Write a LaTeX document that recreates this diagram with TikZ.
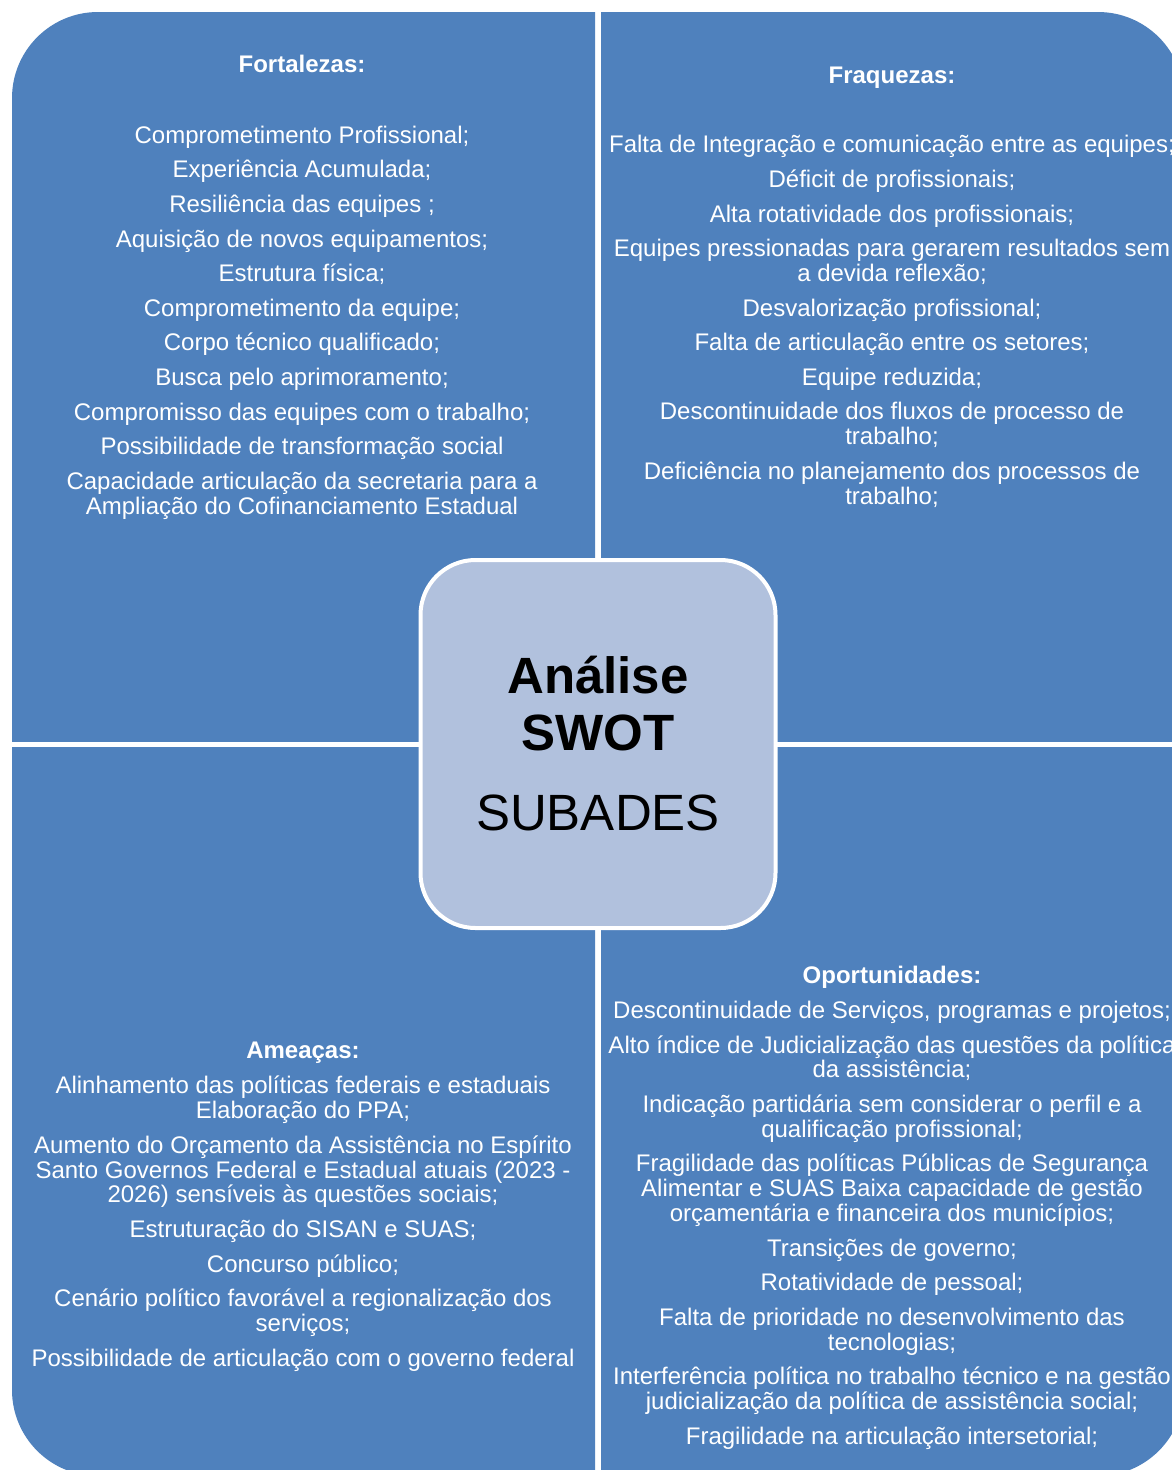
\documentclass[tikz,border=0pt]{standalone}
\usepackage{fontspec}
\setmainfont{Liberation Sans}
\definecolor{quadblue}{RGB}{79,129,189}
\definecolor{hubfill}{RGB}{177,193,221}
\begin{document}
\begin{tikzpicture}[x=1pt,y=-1pt,
  quad/.style={fill=quadblue,rounded corners=86pt},
  % text blocks are placed by the baseline of their last line
  quadtext/.style={text=white,align=center,inner sep=0pt,anchor=base,
    font=\fontsize{24}{24.8}\selectfont},
  hub/.style={draw=white,line width=4pt,fill=hubfill,rounded corners=55pt,
    minimum width=355pt,minimum height=368pt,inner sep=0pt},
  hubtext/.style={text=black,align=center,inner sep=0pt,anchor=base,
    font=\fontsize{51}{57}\selectfont},
]
\useasboundingbox (0,0) rectangle (1172,1470);

% four quadrants cut out of one rounded matrix
\begin{scope}
  \clip (0,0) rectangle (595,741);
  \fill[quad] (12,12) rectangle (1184,1476);
\end{scope}
\begin{scope}
  \clip (601,0) rectangle (1200,741);
  \fill[quad] (12,12) rectangle (1184,1476);
\end{scope}
\begin{scope}
  \clip (0,747) rectangle (595,1500);
  \fill[quad] (12,12) rectangle (1184,1476);
\end{scope}
\begin{scope}
  \clip (601,747) rectangle (1200,1500);
  \fill[quad] (12,12) rectangle (1184,1476);
\end{scope}

% strengths
\node[quadtext] (fortalezas) at (302,514) {\textbf{Fortalezas:}\\[46pt]
Comprometimento Profissional;\\[9.8pt]
Experiência Acumulada;\\[9.8pt]
Resiliência das equipes ;\\[9.8pt]
Aquisição de novos equipamentos;\\[9.8pt]
Estrutura física;\\[9.8pt]
Comprometimento da equipe;\\[9.8pt]
Corpo técnico qualificado;\\[9.8pt]
Busca pelo aprimoramento;\\[9.8pt]
Compromisso das equipes com o trabalho;\\[9.8pt]
Possibilidade de transformação social\\[9.8pt]
Capacidade articulação da secretaria para a\\
Ampliação do Cofinanciamento Estadual};

% weaknesses
\node[quadtext] (fraquezas) at (892,504) {\textbf{Fraquezas:}\\[45pt]
Falta de Integração e comunicação entre as equipes;\\[9.8pt]
Déficit de profissionais;\\[9.8pt]
Alta rotatividade dos profissionais;\\[9.8pt]
Equipes pressionadas para gerarem resultados sem\\
a devida reflexão;\\[9.8pt]
Desvalorização profissional;\\[9.8pt]
Falta de articulação entre os setores;\\[9.8pt]
Equipe reduzida;\\[9.8pt]
Descontinuidade dos fluxos de processo de\\
trabalho;\\[9.8pt]
Deficiência no planejamento dos processos de\\
trabalho;};

% threats
\node[quadtext] (ameacas) at (303,1366) {\textbf{Ameaças:}\\[11pt]
Alinhamento das políticas federais e estaduais\\
Elaboração do PPA;\\[9.8pt]
Aumento do Orçamento da Assistência no Espírito\\
Santo Governos Federal e Estadual atuais (2023 -\\
2026) sensíveis às questões sociais;\\[9.8pt]
Estruturação do SISAN e SUAS;\\[9.8pt]
Concurso público;\\[9.8pt]
Cenário político favorável a regionalização dos\\
serviços;\\[9.8pt]
Possibilidade de articulação com o governo federal};

% opportunities
\node[quadtext] (oportunidades) at (892,1444) {\textbf{Oportunidades:}\\[10pt]
Descontinuidade de Serviços, programas e projetos;\\[9.8pt]
Alto índice de Judicialização das questões da política\\
da assistência;\\[9.8pt]
Indicação partidária sem considerar o perfil e a\\
qualificação profissional;\\[9.8pt]
Fragilidade das políticas Públicas de Segurança\\
Alimentar e SUAS Baixa capacidade de gestão\\
orçamentária e financeira dos municípios;\\[9.8pt]
Transições de governo;\\[9.8pt]
Rotatividade de pessoal;\\[9.8pt]
Falta de prioridade no desenvolvimento das\\
tecnologias;\\[9.8pt]
Interferência política no trabalho técnico e na gestão\\
judicialização da política de assistência social;\\[9.8pt]
Fragilidade na articulação intersetorial;};

% central hub
\node[hub] (hub) at (598,744) {};
\node[hubtext] (hubtitle) at (598,830) {\textbf{Análise}\\\textbf{SWOT}\\[23pt]SUBADES};
\end{tikzpicture}
\end{document}
